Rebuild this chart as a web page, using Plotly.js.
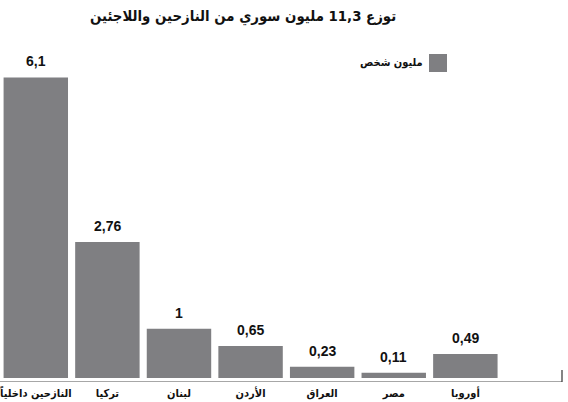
<!DOCTYPE html>
<html>
<head>
<meta charset="utf-8">
<script src="https://cdn.plot.ly/plotly-3.0.1.min.js"></script>
<style>html,body{margin:0;padding:0;background:#fff;}#chart{width:568px;height:402px;}</style>
</head>
<body>
<div id="chart"></div>
<script>
var categories = ["النازحين داخلياً", "تركيا", "لبنان", "الأردن", "العراق", "مصر", "أوروبا"];
var values = [6.1, 2.76, 1, 0.65, 0.23, 0.11, 0.49];
var valueLabels = ["6,1", "2,76", "1", "0,65", "0,23", "0,11", "0,49"];
var seriesName = "مليون شخص";
var titleText = "توزع 11,3 مليون سوري من النازحين واللاجئين";

var barColor = "#7f7f82";
var arFont = "DejaVu Sans Condensed, DejaVu Sans, sans-serif";

var trace = {
  type: "bar",
  x: categories.map(function(c, i){ return i; }),
  y: values,
  marker: {color: barColor},
  width: 0.9,
  hoverinfo: "none",
  showlegend: false
};

var annotations = values.map(function(v, i){
  return {
    x: i, y: v, xref: "x", yref: "y",
    text: valueLabels[i],
    showarrow: false,
    yanchor: "bottom",
    yshift: 6,
    font: {family: "Liberation Sans, Arial, sans-serif", size: 14, color: "#111", weight: "bold"}
  };
});

annotations.push({
  xref: "paper", yref: "paper",
  x: 243/562, y: (382-16)/342,
  text: titleText, showarrow: false,
  xanchor: "center", yanchor: "middle",
  font: {family: arFont, size: 14.8, color: "#111", weight: "bold"}
});
annotations.push({
  xref: "paper", yref: "paper",
  x: 425/562, y: (382-62)/342,
  text: seriesName, showarrow: false,
  xanchor: "right", yanchor: "middle",
  font: {family: arFont, size: 11, color: "#111", weight: "bold"}
});

var layout = {
  width: 568, height: 402,
  margin: {l: 0, r: 6, t: 40, b: 20},
  paper_bgcolor: "#fff", plot_bgcolor: "#fff",
  xaxis: {
    range: [-0.5, 7.35],
    tickmode: "array",
    tickvals: categories.map(function(c, i){ return i; }),
    ticktext: categories,
    showgrid: false, zeroline: false, showline: false,
    ticks: "",
    ticklabelstandoff: 3,
    ticklabeloverflow: "allow",
    tickfont: {family: arFont, size: 11, color: "#111", weight: "bold"},
    fixedrange: true
  },
  yaxis: {
    range: [-0.08, 6.86],
    visible: false,
    showgrid: false, zeroline: false,
    fixedrange: true
  },
  shapes: [
    {type: "line", xref: "paper", yref: "y", x0: 0, x1: 1, y0: -0.08, y1: -0.08,
     line: {color: "#8a8a8a", width: 1.5}},
    {type: "line", xref: "paper", yref: "paper", x0: 1, x1: 1, y0: 0, y1: 0.035,
     line: {color: "#333", width: 1.2}},
    {type: "rect", xref: "paper", yref: "paper",
     x0: 429/562, x1: 447/562, y0: (382-72)/342, y1: (382-54)/342,
     fillcolor: barColor, line: {width: 0}}
  ],
  annotations: annotations,
  showlegend: false
};

Plotly.newPlot("chart", [trace], layout, {displayModeBar: false, staticPlot: true});
</script>
</body>
</html>
